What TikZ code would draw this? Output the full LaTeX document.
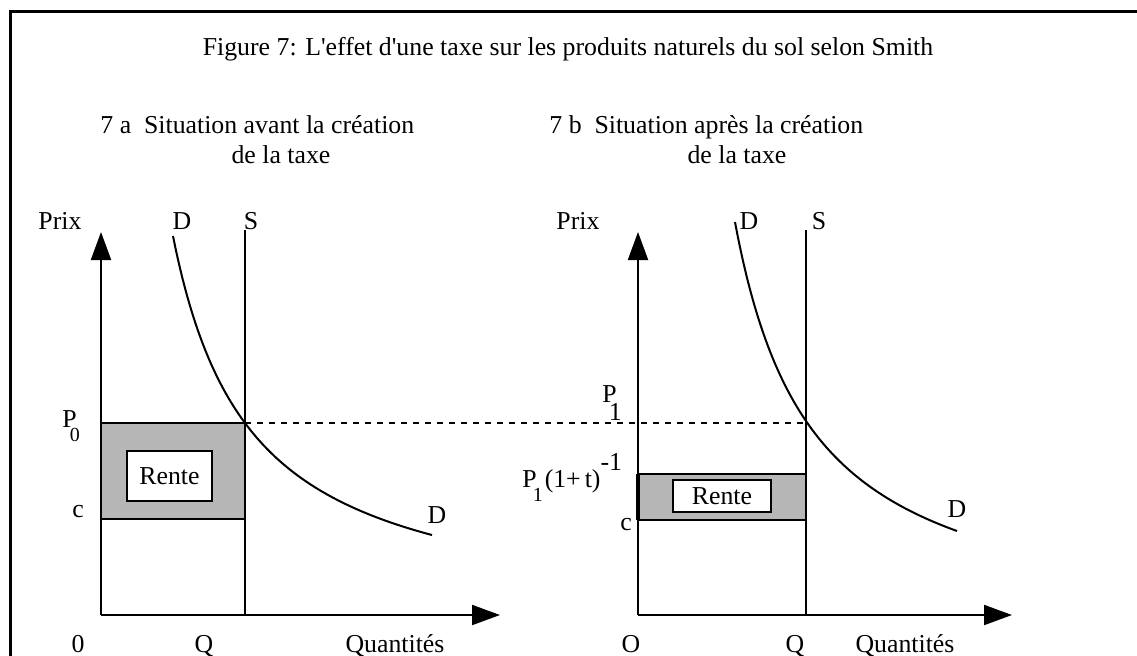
\documentclass[tikz,border=0pt]{standalone}
\usepackage{fontspec}
\setmainfont{Liberation Serif}
\usetikzlibrary{arrows.meta}
\definecolor{grisrente}{RGB}{182,182,182}
% axes d'un panneau : #1 = x de l'origine, #2 = bout de l'axe des quantites, #3 = prefixe
\newcommand{\axes}[3]{%
  \coordinate (#3o) at (#1,615);
  \draw[axe] (#3o) -- (#1,232);
  \draw[axe] (#3o) -- (#2,615);
}
\newcommand{\bas}[2]{\kern-#1\raisebox{-7pt}{\fontsize{10}{10}\selectfont #2}}

\begin{document}
\begin{tikzpicture}[x=0.5pt,y=-0.5pt,
    font=\fontsize{12.9}{15}\selectfont,
    axe/.style={line width=1pt,-{Triangle[width=10pt,length=14pt]}},
    trait/.style={line width=1pt},
    lab/.style={inner sep=0pt,anchor=base},
    boite/.style={draw,line width=1pt,fill=white,inner sep=0pt}]
  \useasboundingbox (0,0) rectangle (1137,655);
  % --- Cadre et titres ---
  \draw[line width=1.5pt] (10,11) rectangle (1170,700);
  \node[lab] (titre) at (568,55) {Figure 7: L\textquotesingle effet d\textquotesingle une taxe sur les produits naturels du sol selon Smith};
  \node[lab,anchor=base west] (sousA) at (100,133) {7 a\ \ Situation avant la création};
  \node[lab] (sousA2) at (281,163) {de la taxe};
  \node[lab,anchor=base west] (sousB) at (549,133) {7 b\ \ Situation après la création};
  \node[lab] (sousB2) at (737,163) {de la taxe};

  % --- 7 a : avant la taxe ---
  \fill[grisrente] (101,423) rectangle (245,519);
  \draw[trait] (101,423) -- (245,423) (101,519) -- (245,519);
  \node[boite,minimum width=42.5pt,minimum height=25pt] (renteA) at (169.5,476) {Rente};
  \axes{101}{500}{a}
  \draw[trait] (245,230) coordinate (sA) -- (245,615);
  \draw[trait] plot[domain=173:432,samples=80,smooth] (\x,{624.62-3016.8/(0.1*(\x-95.37))});
  \coordinate (eqA) at (245,423);
  \node[lab] (prixA) at (60,229) {Prix};
  \node[lab] (dA) at (182,229) {D};
  \node[lab] (sAlab) at (251,229) {S};
  \node[lab] (dA2) at (437,523) {D};
  \node[lab,anchor=base west] (p0) at (62,427) {P\bas{3.5pt}{0}};
  \node[lab] (cA) at (78,517) {c};
  \node[lab] (zero) at (78,652) {0};
  \node[lab] (qA) at (204,652) {Q};
  \node[lab] (quantA) at (395,652) {Quantités};

  % --- 7 b : apres la taxe ---
  \fill[grisrente] (638,474) rectangle (806,520);
  \draw[trait] (638,474) -- (806,474) (638,520) -- (806,520);
  \draw[line width=2pt] (638,474) -- (638,520);
  \node[boite,minimum width=49pt,minimum height=16pt] (renteB) at (722,496) {Rente};
  \axes{638}{1012}{b}
  \draw[trait] (806,230) -- (806,615);
  \draw[trait] plot[domain=735:957,samples=80,smooth] (\x,{639.52-3255.4/(0.1*(\x-657.03))});
  \coordinate (eqB) at (806,423);
  \draw[trait,dash pattern=on 3pt off 3pt] (eqA) -- (eqB);
  \node[lab] (prixB) at (578,229) {Prix};
  \node[lab] (dB) at (749,229) {D};
  \node[lab] (sBlab) at (819,229) {S};
  \node[lab] (dB2) at (957,517) {D};
  \node[lab,anchor=base west] (p1) at (602,402) {P\kern-4pt\raisebox{-9pt}{1}};
  \node[lab,anchor=base west] (ptax) at (522,487) {P\bas{2pt}{1}\kern1pt(1+\kern2pt t)\raisebox{8.5pt}{-1}};
  \node[lab] (cB) at (626,530) {c};
  \node[lab] (zeroB) at (631,652) {O};
  \node[lab] (qB) at (795,652) {Q};
  \node[lab] (quantB) at (905,652) {Quantités};
\end{tikzpicture}
\end{document}
